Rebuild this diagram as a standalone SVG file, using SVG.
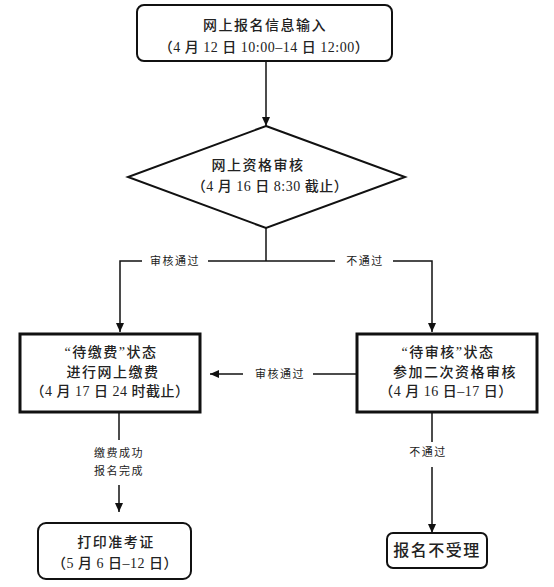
<svg xmlns="http://www.w3.org/2000/svg" width="554" height="587" viewBox="0 0 554 587">
<style>
.t{font-family:"Liberation Serif","Noto Sans CJK SC",serif;font-size:14px;font-weight:500;fill:#222;text-anchor:middle;letter-spacing:1.5px}
.l{font-family:"Liberation Serif","Noto Sans CJK SC",serif;font-size:11px;fill:#222;text-anchor:middle;letter-spacing:1.5px}
.box{fill:#fff;stroke:#111;stroke-width:2}
.thick{fill:#fff;stroke:#111;stroke-width:3}
.c{fill:none;stroke:#111;stroke-width:1.5}
</style>
<defs>
<marker id="ah" markerWidth="10" markerHeight="10" refX="9" refY="5" orient="auto" markerUnits="userSpaceOnUse">
<path d="M0,1 L9,5 L0,9 Z" fill="#111"/>
</marker>
</defs>
<rect width="554" height="587" fill="#fff"/>
<g id="connectors">
<line class="c" x1="266" y1="61" x2="266" y2="126" marker-end="url(#ah)"/>
<line class="c" x1="266" y1="228" x2="266" y2="261"/>
<polyline class="c" points="142,261 120,261 120,332" marker-end="url(#ah)"/>
<line class="c" x1="208" y1="261" x2="335" y2="261"/>
<polyline class="c" points="393,261 432,261 432,332" marker-end="url(#ah)"/>
<line class="c" x1="356" y1="374" x2="313" y2="374"/>
<line class="c" x1="243" y1="374" x2="210" y2="374" marker-end="url(#ah)"/>
<line class="c" x1="119" y1="412" x2="119" y2="440"/>
<line class="c" x1="119" y1="485" x2="119" y2="512" marker-end="url(#ah)"/>
<line class="c" x1="432" y1="412" x2="432" y2="442"/>
<line class="c" x1="432" y1="467" x2="432" y2="533" marker-end="url(#ah)"/>
<text class="l" x="175" y="265">审核通过</text>
<text class="l" x="365" y="265">不通过</text>
<text class="l" x="280" y="378">审核通过</text>
<text class="l" x="119" y="457">缴费成功</text>
<text class="l" x="119" y="475">报名完成</text>
<text class="l" x="428" y="456">不通过</text>
</g>
<g id="n1">
<rect class="box" x="137" y="5" width="255" height="56" rx="7"/>
<text class="t" x="265" y="30">网上报名信息输入</text>
<text class="t" x="264" y="52" style="letter-spacing:0.5px">（4 月 12 日 10:00–14 日 12:00）</text>
</g>
<g id="n2">
<polygon class="box" points="266,126 405,177 266,228 128,177"/>
<text class="t" x="258" y="170">网上资格审核</text>
<text class="t" x="270" y="191" style="letter-spacing:0.5px">（4 月 16 日 8:30 截止）</text>
</g>
<g id="n3">
<rect class="thick" x="20" y="334" width="180" height="78"/>
<text class="t" x="111" y="357">“待缴费”状态</text>
<text class="t" x="113" y="377">进行网上缴费</text>
<text class="t" x="110" y="396" style="letter-spacing:0.5px">（4 月 17 日 24 时截止）</text>
</g>
<g id="n4">
<rect class="thick" x="357" y="334" width="180" height="78"/>
<text class="t" x="448" y="357">“待审核”状态</text>
<text class="t" x="455" y="377">参加二次资格审核</text>
<text class="t" x="446" y="396" style="letter-spacing:0.5px">（4 月 16 日–17 日）</text>
</g>
<g id="n5">
<rect class="box" x="38" y="523" width="153" height="56" rx="8"/>
<text class="t" x="116" y="547">打印准考证</text>
<text class="t" x="115" y="568" style="letter-spacing:0.5px">（5 月 6 日–12 日）</text>
</g>
<g id="n6">
<rect class="box" x="387" y="533" width="100" height="35" rx="6"/>
<text class="t" x="437" y="556" style="font-size:16px">报名不受理</text>
</g>
</svg>
